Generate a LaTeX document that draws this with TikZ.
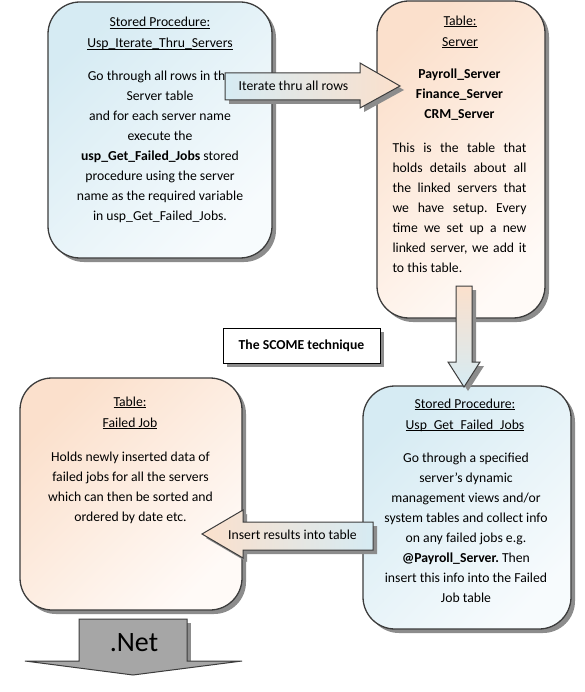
\documentclass[tikz,border=0pt]{standalone}
\usepackage{fontspec}
\setmainfont{Carlito}
\usetikzlibrary{shadows}
\frenchspacing
\definecolor{bluetop}{HTML}{D6EBF3}
\definecolor{bluebot}{HTML}{F7FBFD}
\definecolor{peachtop}{HTML}{FBE0CC}
\definecolor{peachbot}{HTML}{FFFAF7}
\definecolor{edgec}{HTML}{3C3C3C}
\definecolor{shadowc}{HTML}{8C8C8C}
\definecolor{netgray}{HTML}{A6A6A6}
\newcommand\ulx[1]{\setbox0\hbox{#1}\rlap{\copy0}\rule[-2.1pt]{\wd0}{1pt}}
\tikzset{
  box/.style={draw=edgec, line width=1.3pt, rounded corners=32pt, inner sep=0pt,
    drop shadow={shadow xshift=4pt, shadow yshift=-4pt, fill=shadowc, opacity=1}},
  bluebox/.style={box, top color=bluetop, bottom color=bluebot, shading angle=45},
  peachbox/.style={box, top color=peachtop, bottom color=peachbot, shading angle=45},
  txt/.style={inner sep=0pt, align=center, font=\fontsize{13.7}{20}\selectfont},
  ttl/.style={inner sep=0pt, align=center, font=\fontsize{13.7}{21}\selectfont},
  arrshadow/.style={fill=shadowc, shift={(4,4)}},
  arredge/.style={draw=edgec, line width=1pt},
}
\begin{document}
\begin{tikzpicture}[x=1pt,y=-1pt]
\useasboundingbox (0,0) rectangle (585,692);
\fill[white] (0,0) rectangle (585,692);

% boxes
\node[bluebox, minimum width=224pt, minimum height=256pt] (sp1) at (160,130) {};
\node[peachbox, minimum width=168pt, minimum height=317pt] (srv) at (461,159.5) {};
\node[peachbox, minimum width=222pt, minimum height=232pt] (fj) at (131,494) {};
\node[bluebox, minimum width=208pt, minimum height=243pt] (sp2) at (467,507.5) {};

% texts box 1
\node[ttl] (sp1t) at (160,33.5) {\ulx{Stored Procedure:}\\\ulx{Usp\_Iterate\_Thru\_Servers}};
\node[txt] (sp1b) at (160,147) {Go through all rows in the\\Server table\\ and for each server name\\execute the\\\textbf{usp\_Get\_Failed\_Jobs} stored\\procedure using the server\\name as the required variable\\in usp\_Get\_Failed\_Jobs.};

% texts box 2
\node[ttl] (srvt) at (460,32) {\ulx{Table:}\\\ulx{Server}};
\node[txt, font=\fontsize{13.7}{20}\selectfont\bfseries] (srvn) at (459.5,95) {Payroll\_Server\\Finance\_Server\\CRM\_Server};
\node[inner sep=0pt, text width=134pt, align=justify, font=\fontsize{13.7}{20}\selectfont] (srvb) at (459.5,207.5) {This is the table that\linebreak holds details about all\linebreak the linked servers that\linebreak we have setup. Every\linebreak time we set up a new\linebreak linked server, we add it\linebreak to this table.};

% texts box 3
\node[ttl] (fjt) at (130,413) {\ulx{Table:}\\\ulx{Failed Job}};
\node[txt] (fjb) at (130.5,488) {Holds newly inserted data of\\failed jobs for all the servers\\which can then be sorted and\\ordered by date etc.};

% texts box 4
\node[ttl] (sp2t) at (465,415) {\ulx{Stored Procedure:}\\\ulx{Usp\_Get\_Failed\_Jobs}};
\node[txt] (sp2b) at (466,528) {Go through a specified\\server’s dynamic\\management views and/or\\system tables and collect info\\on any failed jobs e.g.\\\textbf{@Payroll\_Server.} Then\\insert this info into the Failed\\Job table};

% iterate arrow
\fill[arrshadow] (225,73) -- (360,73) -- (360,63) -- (400,86) -- (360,108) -- (360,100) -- (225,100) -- cycle;
\shade[left color=bluetop, right color=peachtop, arredge] (225,73) -- (360,73) -- (360,63) -- (400,86) -- (360,108) -- (360,100) -- (225,100) -- cycle;
\node[txt] (itl) at (293.5,86) {Iterate thru all rows};

% down arrow
\fill[arrshadow] (456,286) -- (472,286) -- (472,362) -- (480,362) -- (464,387) -- (448,362) -- (456,362) -- cycle;
\shade[top color=peachtop, bottom color=bluetop, arredge] (456,286) -- (472,286) -- (472,362) -- (480,362) -- (464,387) -- (448,362) -- (456,362) -- cycle;

% insert arrow
\fill[arrshadow] (373,522) -- (243,522) -- (243,510) -- (202,534) -- (243,558) -- (243,550) -- (373,550) -- cycle;
\shade[left color=peachtop, right color=bluetop, arredge] (373,522) -- (243,522) -- (243,510) -- (202,534) -- (243,558) -- (243,550) -- (373,550) -- cycle;
\node[txt] (insl) at (292.5,535) {Insert results into table};

% SCOME box
\fill[shadowc] (227,332) rectangle (384,367);
\node[draw=black, fill=white, line width=0.9pt, minimum width=157pt, minimum height=35pt, inner sep=0pt, font=\fontsize{13.7}{16}\selectfont\bfseries] (scome) at (301.5,345.5) {The SCOME technique};

% .Net arrow
\fill[shadowc] (187,623) -- (191,623) -- (191,661) -- (187,661) -- cycle;
\fill[netgray, draw=edgec, line width=1pt] (79,619) -- (187,619) -- (187,661) -- (242,661) -- (133,675) -- (25,661) -- (79,661) -- cycle;
\node[inner sep=0pt, font=\fontsize{28}{30}\selectfont] (net) at (134,643) {.Net};
\end{tikzpicture}
\end{document}
